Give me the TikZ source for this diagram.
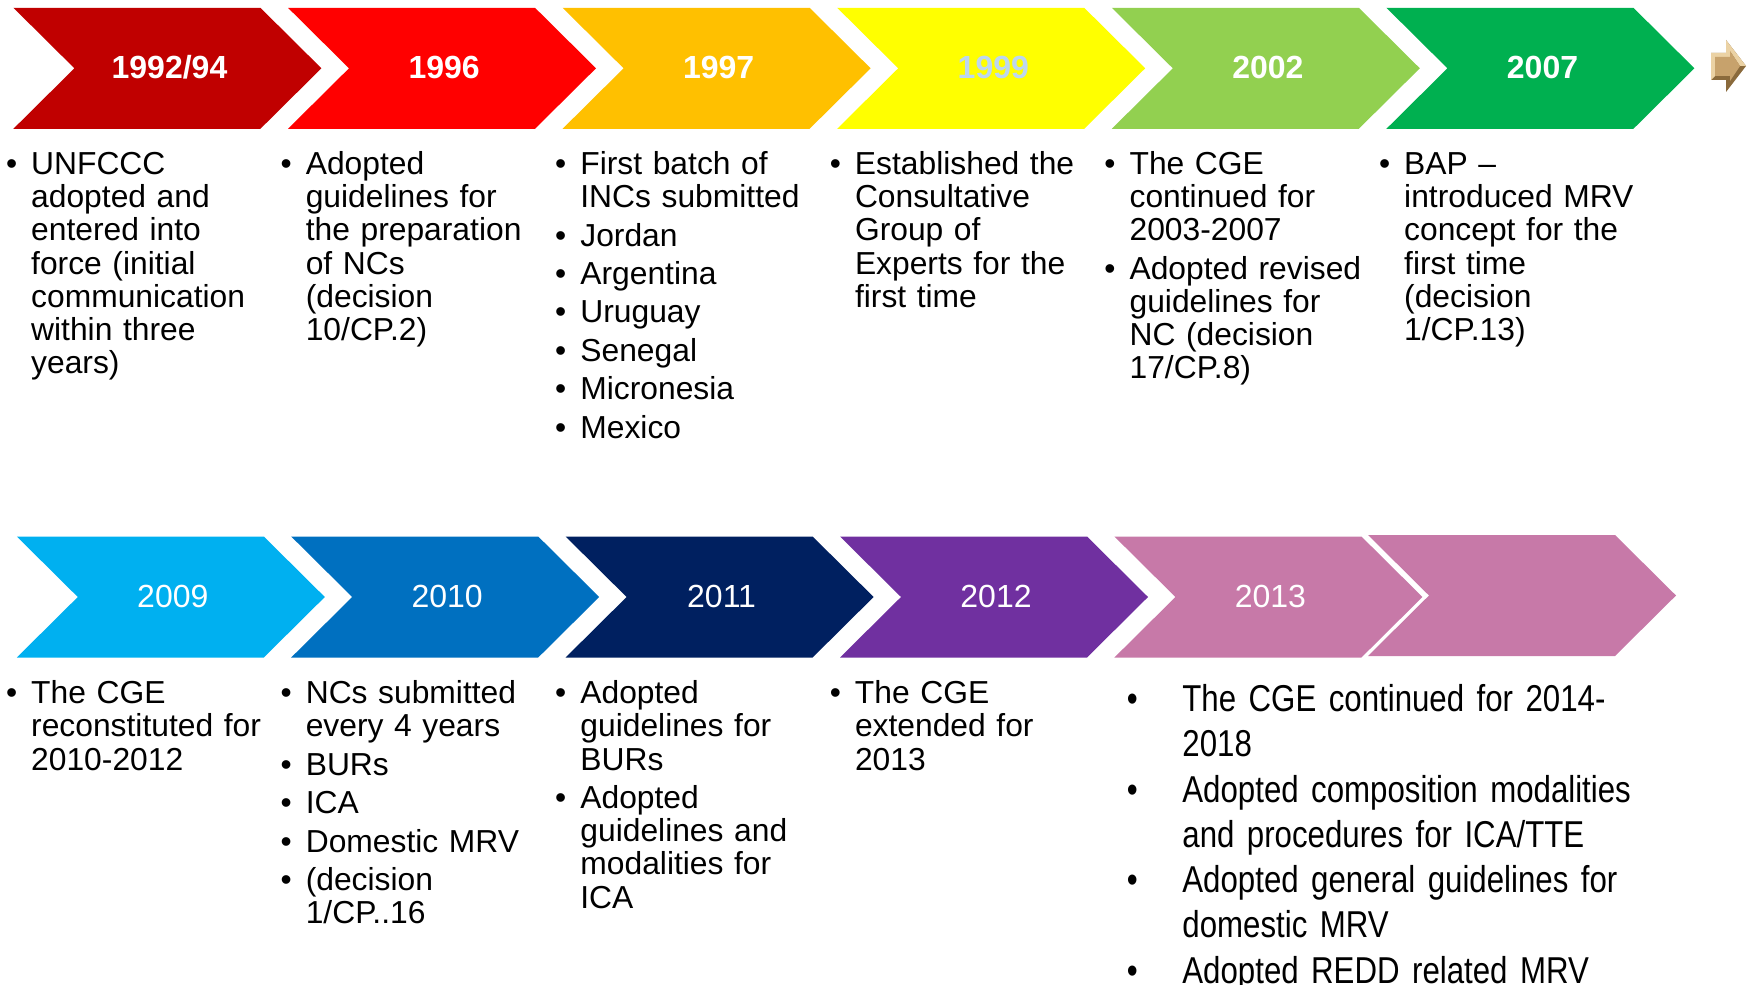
\documentclass[tikz,border=0pt]{standalone}
\usepackage{fontspec}
\setmainfont{Liberation Sans}
\newfontfamily\narrowfont[FakeStretch=0.835]{Liberation Sans}
\definecolor{c1}{HTML}{C00000}
\definecolor{c2}{HTML}{FF0000}
\definecolor{c3}{HTML}{FFC000}
\definecolor{c4}{HTML}{FFFF00}
\definecolor{c5}{HTML}{92D050}
\definecolor{c6}{HTML}{00B050}
\definecolor{d1}{HTML}{00B0F0}
\definecolor{d2}{HTML}{0070C0}
\definecolor{d3}{HTML}{002060}
\definecolor{d4}{HTML}{7030A0}
\definecolor{d5}{HTML}{C779A8}
\definecolor{paleblue}{HTML}{BDD7EE}
\definecolor{golddark}{HTML}{8A6A3C}
\definecolor{goldmid}{HTML}{C7A26C}
\definecolor{goldlight}{HTML}{EBD2A4}
\newcommand\chevron[3]{\fill[#1] (#2,#3) -- ++(247,0) -- ++(61,60.5) -- ++(-61,60.5) -- ++(-247,0) -- ++(61,-60.5) -- cycle;}
\newcommand\bi[1]{\noindent\hangindent=12.6pt\hangafter=1\makebox[12.6pt][l]{\textbullet}#1\par}
\newcommand\bn[1]{\noindent\hangindent=27.8pt\hangafter=1\makebox[27.8pt][l]{\textbullet}#1\par}
\newcommand\lst{\setlength{\parskip}{2.6pt}\raggedright}
\tikzset{
  yeartop/.style={text=white, font=\bfseries\fontsize{16}{18}\selectfont, inner sep=0pt},
  yearbot/.style={text=white, font=\fontsize{16}{18}\selectfont, inner sep=0pt},
  txt/.style={anchor=base west, inner sep=0pt, text width=135pt, font=\fontsize{15.9}{16.6}\selectfont},
  txtn/.style={anchor=base west, inner sep=0pt, text width=270pt, font=\narrowfont\fontsize{18.7}{22.65}\selectfont},
}
\begin{document}
\begin{tikzpicture}[x=0.5pt,y=-0.5pt]
\useasboundingbox (0,0) rectangle (1754,984);
\clip (0,0) rectangle (1754,984);
% top row
\chevron{c1}{13.4}{7.8}
\chevron{c2}{288.0}{7.8}
\chevron{c3}{562.6}{7.8}
\chevron{c4}{837.2}{7.8}
\chevron{c5}{1111.8}{7.8}
\chevron{c6}{1386.4}{7.8}
\node[yeartop] (y1) at (169.5,67.5) {1992/94};
\node[yeartop] (y2) at (444.1,67.5) {1996};
\node[yeartop] (y3) at (718.7,67.5) {1997};
\node[yeartop, text=paleblue] (y4) at (993.3,67.5) {1999};
\node[yeartop] (y5) at (1267.9,67.5) {2002};
\node[yeartop] (y6) at (1542.5,67.5) {2007};
% golden arrow icon
\fill[golddark] (1711,53) -- (1726,53) -- (1726,40) -- (1746,66) -- (1726,92) -- (1726,80) -- (1711,80) -- cycle;
\fill[goldlight] (1711,53) -- (1726,53) -- (1726,40) -- (1746,66) -- (1740,66) -- (1730,51) -- (1730,57) -- (1715,57) -- (1715,76) -- (1711,80) -- cycle;
\fill[goldmid] (1715,57) -- (1730,57) -- (1730,51) -- (1740,66) -- (1730,81) -- (1730,76) -- (1715,76) -- cycle;
% top texts
\node[txt] (t1) at (5.6,174.5) {\lst\bi{UNFCCC\newline adopted and\newline entered into\newline force (initial\newline communication\newline within three\newline years)}};
\node[txt] (t2) at (280.2,174.5) {\lst\bi{Adopted\newline guidelines for\newline the preparation\newline of NCs\newline (decision\newline 10/CP.2)}};
\node[txt] (t3) at (554.8,174.5) {\lst\bi{First batch of\newline INCs submitted}\bi{Jordan}\bi{Argentina}\bi{Uruguay}\bi{Senegal}\bi{Micronesia}\bi{Mexico}};
\node[txt] (t4) at (829.4,174.5) {\lst\bi{Established the\newline Consultative\newline Group of\newline Experts for the\newline first time}};
\node[txt] (t5) at (1104.0,174.5) {\lst\bi{The CGE\newline continued for\newline 2003-2007}\bi{Adopted revised\newline guidelines for\newline NC (decision\newline 17/CP.8)}};
\node[txt] (t6) at (1378.6,174.5) {\lst\bi{BAP –\newline introduced MRV\newline concept for the\newline first time\newline (decision\newline 1/CP.13)}};
% bottom row
\chevron{d1}{16.8}{536.5}
\chevron{d2}{291.2}{536.5}
\chevron{d3}{565.6}{536.5}
\chevron{d4}{840.0}{536.5}
\chevron{d5}{1114.4}{536.5}
\chevron{d5}{1368.0}{535.0}
\node[yearbot] (z1) at (172.8,596) {2009};
\node[yearbot] (z2) at (447.2,596) {2010};
\node[yearbot] (z3) at (721.6,596) {2011};
\node[yearbot] (z4) at (996.0,596) {2012};
\node[yearbot] (z5) at (1270.4,596) {2013};
% bottom texts
\node[txt] (b1) at (5.6,703.6) {\lst\bi{The CGE\newline reconstituted for\newline 2010-2012}};
\node[txt] (b2) at (280.2,703.6) {\lst\bi{NCs submitted\newline every 4 years}\bi{BURs}\bi{ICA}\bi{Domestic MRV}\bi{(decision\newline 1/CP..16}};
\node[txt] (b3) at (554.8,703.6) {\lst\bi{Adopted\newline guidelines for\newline BURs}\bi{Adopted\newline guidelines and\newline modalities for\newline ICA}};
\node[txt] (b4) at (829.4,703.6) {\lst\bi{The CGE\newline extended for\newline 2013}};
\node[txtn] (b5) at (1126.4,711.4) {\raggedright\bn{The CGE continued for 2014-\newline 2018}\bn{Adopted composition modalities\newline and procedures for ICA/TTE}\bn{Adopted general guidelines for\newline domestic MRV}\bn{Adopted REDD related MRV}};
\end{tikzpicture}
\end{document}
